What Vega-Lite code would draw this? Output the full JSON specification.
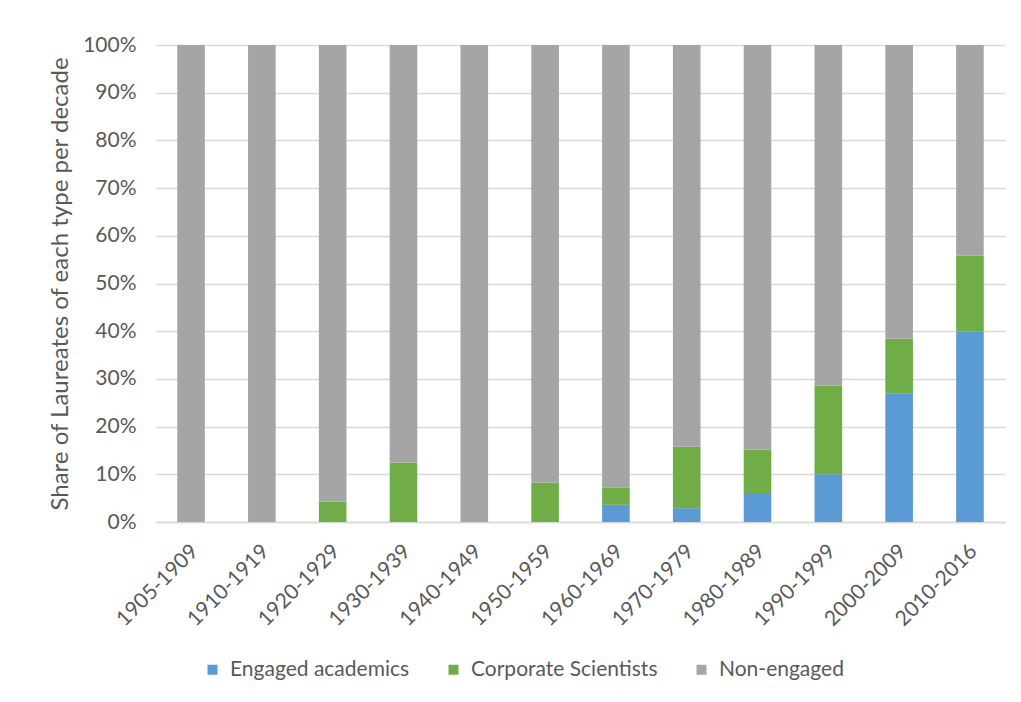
{
  "$schema": "https://vega.github.io/schema/vega-lite/v6.json",
  "autosize": "none",
  "width": 849,
  "height": 477,
  "padding": {"left": 156, "top": 45, "right": 16, "bottom": 180},
  "background": "white",
  "data": {
    "values": [
      {"decade": "1905-1909", "type": "Non-engaged", "share": 1.0},
      {"decade": "1910-1919", "type": "Non-engaged", "share": 1.0},
      {"decade": "1920-1929", "type": "Corporate Scientists", "share": 0.043},
      {"decade": "1920-1929", "type": "Non-engaged", "share": 0.957},
      {"decade": "1930-1939", "type": "Corporate Scientists", "share": 0.125},
      {"decade": "1930-1939", "type": "Non-engaged", "share": 0.875},
      {"decade": "1940-1949", "type": "Non-engaged", "share": 1.0},
      {"decade": "1950-1959", "type": "Corporate Scientists", "share": 0.083},
      {"decade": "1950-1959", "type": "Non-engaged", "share": 0.917},
      {"decade": "1960-1969", "type": "Engaged academics", "share": 0.036},
      {"decade": "1960-1969", "type": "Corporate Scientists", "share": 0.036},
      {"decade": "1960-1969", "type": "Non-engaged", "share": 0.928},
      {"decade": "1970-1979", "type": "Engaged academics", "share": 0.029},
      {"decade": "1970-1979", "type": "Corporate Scientists", "share": 0.129},
      {"decade": "1970-1979", "type": "Non-engaged", "share": 0.842},
      {"decade": "1980-1989", "type": "Engaged academics", "share": 0.061},
      {"decade": "1980-1989", "type": "Corporate Scientists", "share": 0.091},
      {"decade": "1980-1989", "type": "Non-engaged", "share": 0.848},
      {"decade": "1990-1999", "type": "Engaged academics", "share": 0.1},
      {"decade": "1990-1999", "type": "Corporate Scientists", "share": 0.186},
      {"decade": "1990-1999", "type": "Non-engaged", "share": 0.714},
      {"decade": "2000-2009", "type": "Engaged academics", "share": 0.269},
      {"decade": "2000-2009", "type": "Corporate Scientists", "share": 0.115},
      {"decade": "2000-2009", "type": "Non-engaged", "share": 0.616},
      {"decade": "2010-2016", "type": "Engaged academics", "share": 0.4},
      {"decade": "2010-2016", "type": "Corporate Scientists", "share": 0.158},
      {"decade": "2010-2016", "type": "Non-engaged", "share": 0.442}
    ]
  },
  "mark": {"type": "bar"},
  "encoding": {
    "x": {
      "field": "decade",
      "type": "nominal",
      "sort": null,
      "scale": {"paddingInner": 0.61, "paddingOuter": 0.3},
      "axis": {
        "title": null,
        "labelAngle": -45,
        "labelAlign": "right",
        "labelBaseline": "middle",
        "ticks": false,
        "domain": true,
        "domainColor": "#D9D9D9",
        "domainWidth": 1.5,
        "labelPadding": 26,
        "labelOffset": 4,
        "labelFontSize": 21,
        "labelColor": "#595959",
        "labelFont": "Lato"
      }
    },
    "y": {
      "field": "share",
      "type": "quantitative",
      "stack": "zero",
      "scale": {"domain": [0, 1]},
      "axis": {
        "title": "Share of Laureates of each type per decade",
        "titleFontSize": 24,
        "titleFontWeight": "normal",
        "titleColor": "#595959",
        "titleFont": "Lato",
        "titlePadding": 10,
        "format": ".0%",
        "values": [0, 0.1, 0.2, 0.3, 0.4, 0.5, 0.6, 0.7, 0.8, 0.9, 1.0],
        "ticks": false,
        "domain": false,
        "labelPadding": 20,
        "labelFontSize": 21,
        "labelColor": "#595959",
        "labelFont": "Lato",
        "gridColor": "#D9D9D9",
        "gridWidth": 1.5
      }
    },
    "color": {
      "field": "type",
      "type": "nominal",
      "scale": {
        "domain": ["Engaged academics", "Corporate Scientists", "Non-engaged"],
        "range": ["#5B9BD5", "#70AD47", "#A5A5A5"]
      },
      "legend": {
        "title": null,
        "orient": "none",
        "direction": "horizontal",
        "legendX": 46,
        "legendY": 614,
        "symbolType": "square",
        "symbolSize": 100,
        "symbolStrokeWidth": 0,
        "labelFontSize": 21,
        "labelLimit": 400,
        "labelColor": "#595959",
        "labelFont": "Lato",
        "columnPadding": 33,
        "labelOffset": 7
      }
    },
    "order": {"field": "ord", "type": "quantitative"}
  },
  "transform": [
    {"calculate": "indexof(['Engaged academics','Corporate Scientists','Non-engaged'], datum.type)", "as": "ord"}
  ],
  "config": {"view": {"stroke": null}}
}
